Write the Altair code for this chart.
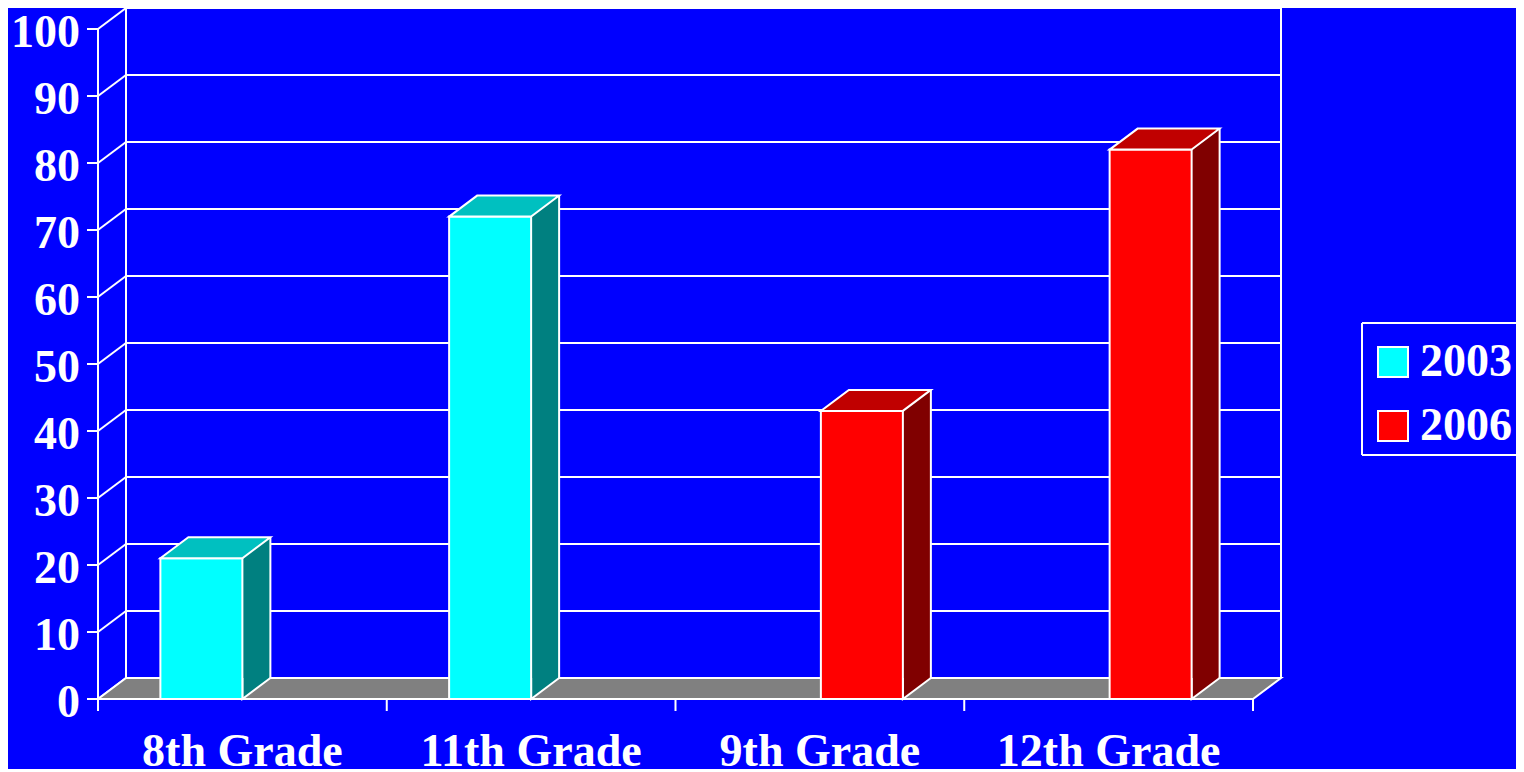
import altair as alt
import pandas as pd

# ---- data ----
categories = ["8th Grade", "11th Grade", "9th Grade", "12th Grade"]
series = ["2003", "2003", "2006", "2006"]
values = [21, 72, 43, 82]
y_ticks = [0, 10, 20, 30, 40, 50, 60, 70, 80, 90, 100]
legend_years = ["2003", "2006"]

# ---- styles ----
front_colors = ["#00FFFF", "#FF0000"]
top_colors = ["#00C0C0", "#C00000"]
side_colors = ["#008080", "#800000"]
BG = "#0000FF"
FLOOR = "#808080"
W, H = 1155, 670
DX, DY = 28, 21
BAR_W = 82
SERIES_SHIFT = {"2003": -41, "2006": 42}
LINE = 2
FONT = "Liberation Serif"
FS = 46
# legend frame (plot-area pixels); its right side runs off the canvas as in the original
LEG_L, LEG_T, LEG_B, LEG_R = 1264, 294, 426, 1440

bars = pd.DataFrame({"grade": categories, "series": series, "value": values})
ticks = pd.DataFrame({"t": y_ticks})
one = pd.DataFrame({"k": [0]})

yscale = alt.Scale(domain=[0, 100], nice=False, zero=True)
xscale = alt.Scale(domain=categories, paddingInner=0, paddingOuter=0)


def X(**kw):
    return alt.X("grade:N", scale=xscale, axis=None, **kw)


def Y():
    return alt.Y("value:Q", scale=yscale, axis=None)


def YD(v):
    return alt.YDatum(datum=v, scale=yscale, axis=None)


layers = []

# back wall gridlines
layers.append(
    alt.Chart(ticks).mark_rule(color="white", strokeWidth=LINE, yOffset=-DY).encode(
        x=alt.value(DX), x2=alt.value(W + DX),
        y=alt.Y("t:Q", scale=yscale, axis=None))
)
# back wall vertical edges
for xv in (DX, W + DX):
    layers.append(
        alt.Chart(one).mark_rule(color="white", strokeWidth=LINE, yOffset=-DY, y2Offset=-DY).encode(
            x=alt.value(xv), y=YD(100), y2=alt.Y2Datum(datum=0))
    )
# side wall diagonals
layers.append(
    alt.Chart(ticks).mark_rule(color="white", strokeWidth=LINE, y2Offset=-DY).encode(
        x=alt.value(0), x2=alt.value(DX),
        y=alt.Y("t:Q", scale=yscale, axis=None), y2=alt.Y2("t:Q"))
)
# y axis: domain, ticks, labels
layers.append(
    alt.Chart(one).mark_rule(color="white", strokeWidth=LINE).encode(
        x=alt.value(0), y=YD(100), y2=alt.Y2Datum(datum=0))
)
layers.append(
    alt.Chart(ticks).mark_rule(color="white", strokeWidth=LINE).encode(
        x=alt.value(-11), x2=alt.value(0), y=alt.Y("t:Q", scale=yscale, axis=None))
)
layers.append(
    alt.Chart(ticks).mark_text(align="right", baseline="alphabetic", dy=18, font=FONT,
                               fontSize=FS, fontWeight="bold", color="white").encode(
        x=alt.value(-18), y=alt.Y("t:Q", scale=yscale, axis=None), text="t:Q")
)
# x axis ticks at band edges
layers.append(
    alt.Chart(bars).mark_rule(color="white", strokeWidth=LINE, y2Offset=12).encode(
        x=X(bandPosition=0), y=YD(0), y2=alt.Y2Datum(datum=0))
)
layers.append(
    alt.Chart(one).mark_rule(color="white", strokeWidth=LINE, y2Offset=12).encode(
        x=alt.value(W), y=YD(0), y2=alt.Y2Datum(datum=0))
)
# x labels
layers.append(
    alt.Chart(bars).mark_text(align="center", baseline="alphabetic", font=FONT,
                              fontSize=FS, fontWeight="bold", color="white").encode(
        x=X(), y=alt.value(H + 67), text="grade:N")
)
# floor
floor_path = f"M0,0 L{W},0 L{W + DX},{-DY} L{DX},{-DY} Z"
layers.append(
    alt.Chart(one).mark_point(shape=floor_path, size=4, filled=True, fill=FLOOR,
                              stroke="white", strokeWidth=LINE, opacity=1).encode(
        x=alt.value(0), y=YD(0))
)
# legend frame
for yv in (LEG_T, LEG_B):
    layers.append(
        alt.Chart(one).mark_rule(color="white", strokeWidth=LINE).encode(
            x=alt.value(LEG_L), x2=alt.value(LEG_R), y=alt.value(yv))
    )
layers.append(
    alt.Chart(one).mark_rule(color="white", strokeWidth=LINE).encode(
        x=alt.value(LEG_L), y=alt.value(LEG_T), y2=alt.value(LEG_B))
)

half = BAR_W / 2
for i, s in enumerate(legend_years):
    g = SERIES_SHIFT[s]
    base = alt.Chart(bars).transform_filter(alt.datum.series == s)
    # side face
    layers.append(
        base.mark_bar(width=DX, xOffset=g + half + DX / 2, yOffset=-DY, y2Offset=-DY,
                      fill=side_colors[i], strokeWidth=0).encode(
            x=X(), y=Y(), y2=alt.Y2Datum(datum=0))
    )
    # lower triangle of side face
    layers.append(
        base.mark_point(shape=f"M0,{-DY} L0,0 L{DX},{-DY}", size=4, filled=True,
                        fill=side_colors[i], stroke="white", strokeWidth=LINE, opacity=1,
                        xOffset=g + half).encode(x=X(), y=YD(0))
    )
    # right edge of side face
    layers.append(
        base.mark_rule(color="white", strokeWidth=LINE, xOffset=g + half + DX,
                       yOffset=-DY, y2Offset=-DY).encode(
            x=X(), y=Y(), y2=alt.Y2Datum(datum=0))
    )
    # front face
    layers.append(
        base.mark_bar(width=BAR_W, xOffset=g, stroke="white", strokeWidth=LINE, opacity=1).encode(
            x=X(), y=Y(),
            color=alt.Color("series:N",
                            scale=alt.Scale(domain=legend_years, range=front_colors),
                            legend=alt.Legend(title=None, orient="none", legendX=1260,
                                              legendY=298, padding=12,
                                              symbolType="square", symbolSize=900,
                                              symbolStrokeColor="white",
                                              symbolStrokeWidth=LINE, symbolOpacity=1,
                                              labelFont=FONT, labelFontSize=FS,
                                              labelFontWeight="bold", labelColor="white",
                                              labelOffset=4, rowPadding=18)))
    )
    # top face
    top_path = f"M{-half},0 L{half},0 L{half + DX},{-DY} L{-half + DX},{-DY} Z"
    layers.append(
        base.mark_point(shape=top_path, size=4, filled=True, fill=top_colors[i],
                        stroke="white", strokeWidth=LINE, opacity=1, xOffset=g).encode(
            x=X(), y=Y())
    )

chart = alt.layer(*layers).properties(
    width=W, height=H, background=BG,
    padding={"left": 90, "top": 21, "right": 263, "bottom": 70},
    autosize=alt.AutoSizeParams(type="none"),
    usermeta={"embedOptions": {"defaultStyle": "body{background:#0000FF}"}},
).configure_view(stroke=None)

chart.save("out.html", embed_options={"renderer": "svg", "actions": False})
